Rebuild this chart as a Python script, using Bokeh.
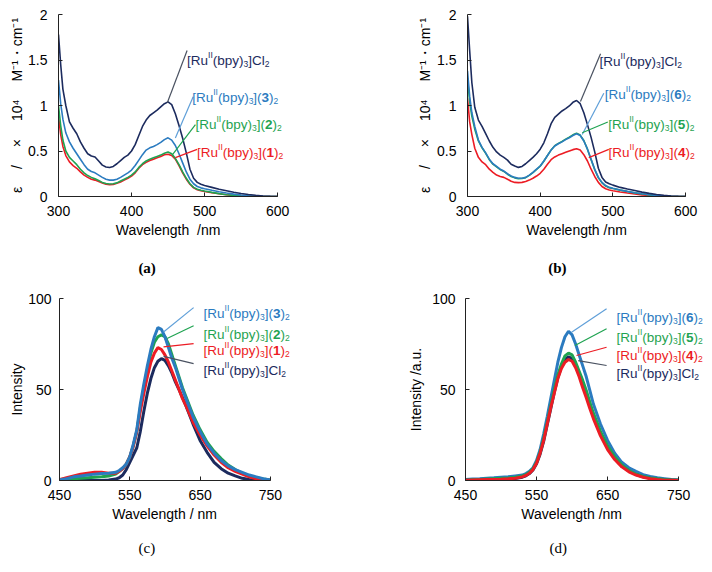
from bokeh.plotting import figure
from bokeh.models import Label, LinearAxis, Range1d, FixedTicker, NumeralTickFormatter
from bokeh.layouts import row, column
from bokeh.embed import file_html
from bokeh.resources import INLINE

# ---------------- data ----------------
wl_abs = [300, 303, 306, 310, 315, 320, 325, 330, 335, 340, 345, 350, 355, 360, 365, 370,
          375, 380, 385, 390, 395, 400, 405, 410, 415, 420, 425, 430, 435, 440, 445, 450,
          455, 460, 465, 470, 475, 480, 485, 490, 495, 500, 510, 520, 530, 540, 550, 560,
          570, 580, 590, 600]

abs_a_cl = [1.78, 1.45, 1.18, 1.00, 0.82, 0.75, 0.69, 0.60, 0.53, 0.47, 0.445, 0.435, 0.39, 0.345, 0.325, 0.318,
            0.33, 0.36, 0.395, 0.43, 0.455, 0.50, 0.57, 0.67, 0.77, 0.84, 0.89, 0.92, 0.95, 0.985, 1.02, 1.04,
            1.01, 0.91, 0.78, 0.64, 0.48, 0.30, 0.20, 0.155, 0.135, 0.12, 0.10, 0.08, 0.064, 0.047, 0.033, 0.022,
            0.013, 0.006, 0.002, 0.0]
abs_a_3 = [1.28, 1.02, 0.85, 0.70, 0.60, 0.53, 0.47, 0.41, 0.35, 0.30, 0.275, 0.26, 0.235, 0.21, 0.19, 0.18,
           0.18, 0.19, 0.21, 0.235, 0.26, 0.29, 0.34, 0.40, 0.46, 0.51, 0.535, 0.55, 0.57, 0.595, 0.625, 0.645,
           0.62, 0.56, 0.47, 0.37, 0.27, 0.19, 0.14, 0.11, 0.095, 0.085, 0.068, 0.052, 0.038, 0.026, 0.016, 0.008,
           0.003, 0.001, 0.0, 0.0]
abs_a_2 = [1.00, 0.78, 0.62, 0.50, 0.43, 0.39, 0.35, 0.30, 0.26, 0.23, 0.21, 0.195, 0.175, 0.155, 0.142, 0.138,
           0.14, 0.15, 0.17, 0.19, 0.21, 0.235, 0.27, 0.32, 0.36, 0.39, 0.41, 0.425, 0.44, 0.455, 0.475, 0.49,
           0.47, 0.42, 0.35, 0.27, 0.20, 0.14, 0.10, 0.08, 0.068, 0.06, 0.045, 0.032, 0.02, 0.012, 0.006, 0.003,
           0.001, 0.0, 0.0, 0.0]
abs_a_1 = [0.88, 0.68, 0.55, 0.45, 0.38, 0.34, 0.31, 0.27, 0.235, 0.21, 0.19, 0.18, 0.165, 0.148, 0.135, 0.13,
           0.132, 0.145, 0.16, 0.18, 0.20, 0.225, 0.26, 0.31, 0.35, 0.375, 0.395, 0.41, 0.425, 0.44, 0.458, 0.465,
           0.45, 0.41, 0.34, 0.26, 0.19, 0.135, 0.095, 0.075, 0.063, 0.055, 0.042, 0.03, 0.019, 0.011, 0.006, 0.003,
           0.001, 0.0, 0.0, 0.0]

abs_b_cl = [1.98, 1.60, 1.25, 0.98, 0.84, 0.77, 0.69, 0.61, 0.54, 0.49, 0.455, 0.43, 0.40, 0.355, 0.335, 0.32,
            0.33, 0.36, 0.395, 0.43, 0.47, 0.52, 0.59, 0.69, 0.80, 0.87, 0.905, 0.94, 0.965, 0.995, 1.035, 1.055,
            1.02, 0.92, 0.79, 0.65, 0.49, 0.31, 0.21, 0.16, 0.14, 0.125, 0.10, 0.082, 0.065, 0.048, 0.034, 0.022,
            0.013, 0.006, 0.002, 0.0]
abs_b_6 = [1.38, 1.10, 0.92, 0.77, 0.62, 0.54, 0.48, 0.41, 0.36, 0.33, 0.30, 0.28, 0.25, 0.225, 0.21, 0.20,
           0.20, 0.21, 0.235, 0.265, 0.30, 0.335, 0.39, 0.45, 0.51, 0.555, 0.58, 0.60, 0.625, 0.645, 0.67, 0.69,
           0.67, 0.61, 0.52, 0.41, 0.30, 0.21, 0.155, 0.12, 0.10, 0.09, 0.072, 0.056, 0.042, 0.03, 0.02, 0.012,
           0.006, 0.002, 0.0, 0.0]
abs_b_5 = [1.30, 1.04, 0.88, 0.74, 0.61, 0.535, 0.475, 0.405, 0.355, 0.325, 0.295, 0.275, 0.245, 0.22, 0.205, 0.196,
           0.197, 0.207, 0.232, 0.262, 0.297, 0.333, 0.388, 0.45, 0.512, 0.558, 0.584, 0.605, 0.63, 0.652, 0.678, 0.695,
           0.675, 0.615, 0.52, 0.405, 0.295, 0.205, 0.15, 0.115, 0.097, 0.087, 0.07, 0.054, 0.04, 0.028, 0.018, 0.01,
           0.005, 0.002, 0.0, 0.0]
abs_b_4 = [1.08, 0.82, 0.68, 0.53, 0.43, 0.38, 0.35, 0.30, 0.265, 0.235, 0.22, 0.21, 0.19, 0.168, 0.155, 0.152,
           0.155, 0.165, 0.18, 0.20, 0.225, 0.255, 0.30, 0.355, 0.405, 0.435, 0.455, 0.47, 0.485, 0.50, 0.515, 0.525,
           0.51, 0.46, 0.39, 0.30, 0.22, 0.155, 0.11, 0.085, 0.072, 0.064, 0.05, 0.038, 0.027, 0.018, 0.011, 0.006,
           0.003, 0.001, 0.0, 0.0]

wl_em = [450, 460, 470, 480, 490, 500, 510, 520, 530, 535, 540, 545, 550, 555, 560, 565, 570, 575, 580, 585,
         590, 595, 600, 605, 610, 615, 620, 625, 630, 640, 650, 660, 670, 680, 690, 700, 710, 720, 730, 740, 750]

em_c_3 = [0.3, 1, 2, 2.5, 3, 3.5, 3.8, 4, 4.5, 5.5, 7, 9, 13, 20, 28, 42, 53, 63, 72, 79,
          84, 83, 79, 73, 67, 62, 56, 50, 45, 35, 27, 20, 15, 11, 8, 6, 4.5, 3, 2, 1, 0.3]
em_c_2 = [0.5, 0.8, 1, 1.2, 1.5, 1.8, 2, 2.5, 3.5, 5, 6.5, 9, 13, 19, 27, 40, 51, 61, 70, 76,
          79, 80, 79, 75, 69, 63, 57, 51, 46, 36, 28, 21, 16, 12, 8.5, 6, 4, 2.5, 1.5, 0.8, 0.3]
em_c_1 = [0.5, 1.5, 2.5, 3.5, 4, 4.5, 4.5, 4, 4, 5, 6.5, 9, 13, 19, 27, 38, 48, 57, 65, 70,
          73, 72, 69, 65, 60, 55, 50, 45, 41, 32, 25, 19, 14, 10, 7, 5, 3.5, 2, 1, 0.5, 0]
em_c_cl = [0, 0, 0, 0, 0, 0, 0, 0.3, 0.8, 1.5, 3, 6, 10, 14, 18, 27, 38, 48, 56, 62,
           65.5, 67, 66, 63, 59, 54, 50, 45.5, 41, 31, 22, 15.5, 10, 6.5, 4, 2.5, 1.2, 0.5, 0.2, 0, 0]

em_d_6 = [0.5, 0.8, 1, 1.3, 1.5, 1.8, 2, 2.5, 3, 3.8, 5, 7, 11, 17, 25.5, 35, 45, 55, 65, 73,
          79, 82, 80, 75, 69, 63, 57, 49.5, 42, 31, 22, 15, 10, 7, 5, 3.2, 2.2, 1.5, 1, 0.5, 0.3]
em_d_5 = [0.2, 0.4, 0.6, 0.8, 1, 1.2, 1.4, 1.8, 2.5, 3.2, 4.5, 6.5, 10, 15.5, 23, 32, 41, 50, 58, 64,
          68.5, 70, 69, 65, 60, 55, 49.5, 43, 37, 27, 19, 13, 8.5, 5.5, 3.5, 2.2, 1.4, 0.9, 0.5, 0.3, 0.1]
em_d_4 = [0.2, 0.3, 0.4, 0.5, 0.6, 0.7, 0.9, 1.2, 2, 2.8, 4, 6, 9.5, 15, 22, 31, 40, 48, 56, 61.5,
          65, 66.5, 65.5, 62, 57, 51, 45.5, 39.5, 34, 24.5, 17, 11.5, 7.5, 4.8, 3, 1.8, 1, 0.5, 0.2, 0.1, 0]
em_d_cl = [0.1, 0.2, 0.3, 0.4, 0.5, 0.6, 0.8, 1.1, 1.8, 2.6, 3.8, 5.8, 9.2, 14.5, 21.5, 30.5, 39.5, 48.5, 56.5, 62.5,
           66.5, 68, 67, 63.5, 58.5, 53, 47.5, 41.5, 35.5, 26, 18, 12.3, 8, 5.2, 3.3, 2, 1.2, 0.7, 0.4, 0.2, 0.1]

abs_xticks = [300, 400, 500, 600]
abs_yticks = [0, 0.5, 1, 1.5, 2]
em_xticks = [450, 550, 650, 750]
em_yticks = [0, 50, 100]

# ---------------- style ----------------
FONT = "Liberation Sans"
NAVY = "#1c2b5e"
BLUE = "#2b7bc0"
GREEN = "#1fa351"
RED = "#ec1c24"
NAVY_LEAD = "#4a5261"
BLUE_LEAD = "#5f9fd8"
LSIZE = 13.5
EM = "\u2003"
NB = "\u00a0"

ADV = {'[': 278, ']': 278, '(': 333, ')': 333, 'R': 722, 'u': 556, 'I': 278, 'b': 556,
       'p': 556, 'y': 500, 'C': 722, 'l': 222}


def tw(s, size):
    return sum(ADV.get(c, 556) for c in s) * size / 1000.0


def rich(p, x, y, parts, color):
    off = 0.0
    for txt, kind in parts:
        size = 8.5 if kind in ("sup", "sub") else LSIZE
        dy = {"n": -5, "b": -5, "sup": 0.5, "sub": -8.5}[kind]
        p.add_layout(Label(x=x, y=y, x_offset=off, y_offset=dy, text=txt, text_font=FONT,
                           text_font_size=f"{size}px",
                           text_font_style="bold" if kind == "b" else "normal",
                           text_color=color, text_align="left", text_baseline="alphabetic"))
        off += tw(txt, size)


CL = [("[Ru", "n"), ("II", "sup"), ("(bpy)", "n"), ("3", "sub"), ("]Cl", "n"), ("2", "sub")]


def ion(n):
    return [("[Ru", "n"), ("II", "sup"), ("(bpy)", "n"), ("3", "sub"), ("](", "n"), (n, "b"), (")", "n"), ("2", "sub")]


def make_fig(width, height, xr, xb, yr, left, right, top, bottom, xticks, yticks, xlabel, ylabel,
             ylab_standoff, ytick_standoff, tag, tag_bold, tag_standoff):
    p = figure(width=width, height=height, x_range=Range1d(*xr), y_range=Range1d(*yr),
               output_backend="svg", toolbar_location=None, title=None,
               min_border_left=left, min_border_right=right, min_border_top=top, min_border_bottom=bottom)
    p.grid.visible = False
    p.outline_line_color = None
    p.background_fill_color = "white"
    p.border_fill_color = "white"
    p.xaxis.ticker = FixedTicker(ticks=xticks)
    p.yaxis.ticker = FixedTicker(ticks=yticks)
    p.xaxis.bounds = xb
    for ax in p.axis:
        ax.major_tick_in = 4
        ax.major_tick_out = 0
        ax.minor_tick_in = 0
        ax.minor_tick_out = 0
        ax.axis_line_color = "#222222"
        ax.major_tick_line_color = "#222222"
        ax.major_label_text_font = FONT
        ax.major_label_text_font_size = "14px"
        ax.major_label_text_color = "black"
        ax.axis_label_text_font = FONT
        ax.axis_label_text_font_size = "14px"
        ax.axis_label_text_font_style = "normal"
        ax.axis_label_text_color = "black"
    p.xaxis.major_label_standoff = 9
    p.yaxis.major_label_standoff = ytick_standoff
    p.xaxis.axis_label_standoff = 3
    p.yaxis.axis_label_standoff = ylab_standoff
    p.xaxis.axis_label = xlabel
    p.yaxis.axis_label = ylabel
    # panel tag "(a)" etc. drawn as the label of a bare axis below the wavelength axis
    tag_axis = LinearAxis(ticker=FixedTicker(ticks=[]), axis_label=tag,
                          axis_line_color=None, major_tick_in=0, major_tick_out=0,
                          minor_tick_in=0, minor_tick_out=0, major_label_standoff=0,
                          axis_label_standoff=tag_standoff, axis_label_text_font="Liberation Serif",
                          axis_label_text_font_size="15px",
                          axis_label_text_font_style="bold" if tag_bold else "normal",
                          axis_label_text_color="black")
    p.add_layout(tag_axis, "below")
    return p


EPS = "ε\u2003 /\u2003 ×\u2003 10⁴\u2003 M⁻¹・cm⁻¹"

# ---------------- (a) ----------------
pa = make_fig(356, 286, (300, 630), (300, 600), (0, 2), 58, 57, 14, 90, abs_xticks, abs_yticks,
              "Wavelength" + NB + " /nm" + EM + NB + NB, EPS, 0, 11,
              "(a)" + EM * 4 + NB, True, 19)
pa.yaxis[0].formatter = NumeralTickFormatter(format="0.[0]")
for ys, c in [(abs_a_1, RED), (abs_a_2, GREEN), (abs_a_3, BLUE), (abs_a_cl, NAVY)]:
    pa.line(wl_abs, ys, line_color=c, line_width=1.6)
pa.segment(x0=[476.1], y0=[1.604], x1=[449], y1=[1.03], line_color=NAVY_LEAD, line_width=1.2)
pa.segment(x0=[484.4], y0=[1.097], x1=[460], y1=[0.644], line_color=BLUE_LEAD, line_width=1.2)
pa.segment(x0=[487.5], y0=[0.789], x1=[456.4], y1=[0.464], line_color=GREEN, line_width=1.2)
pa.segment(x0=[489.8], y0=[0.518], x1=[460], y1=[0.427], line_color=RED, line_width=1.2)
rich(pa, 476.1, 1.549, CL, NAVY)
rich(pa, 483.0, 1.140, ion("3"), BLUE)
rich(pa, 487.5, 0.844, ion("2"), GREEN)
rich(pa, 489.8, 0.535, ion("1"), RED)

# ---------------- (b) ----------------
pb = make_fig(348, 286, (300, 624.6), (300, 600), (0, 2), 111, 1, 14, 90, abs_xticks, abs_yticks,
              "Wavelength /nm" + EM + NB, EPS, 1, 11,
              "(b)" + EM * 3 + NB * 3, True, 19)
pb.yaxis[0].formatter = NumeralTickFormatter(format="0.[0]")
for ys, c in [(abs_b_4, RED), (abs_b_5, GREEN), (abs_b_6, BLUE), (abs_b_cl, NAVY)]:
    pb.line(wl_abs, ys, line_color=c, line_width=1.6)
pb.segment(x0=[483.0], y0=[1.568], x1=[455.4], y1=[1.043], line_color=NAVY_LEAD, line_width=1.2)
pb.segment(x0=[487.5], y0=[1.134], x1=[457.8], y1=[0.682], line_color=BLUE_LEAD, line_width=1.2)
pb.segment(x0=[493.0], y0=[0.818], x1=[457.8], y1=[0.700], line_color=GREEN, line_width=1.2)
pb.segment(x0=[494.4], y0=[0.518], x1=[466.8], y1=[0.427], line_color=RED, line_width=1.2)
rich(pb, 481.6, 1.533, CL, NAVY)
rich(pb, 488.9, 1.174, ion("6"), BLUE)
rich(pb, 493.5, 0.848, ion("5"), GREEN)
rich(pb, 494.0, 0.533, ion("4"), RED)

# ---------------- (c) ----------------
pc = make_fig(356, 278, (450, 800), (450, 750), (0, 100), 59, 51, 12, 84, em_xticks, em_yticks,
              "Wavelength / nm" + EM * 2 + NB * 2, "Intensity", 0, 8,
              "(c)" + EM * 4 + NB * 3, False, 15)
for ys, c in [(em_c_cl, NAVY), (em_c_2, GREEN), (em_c_1, RED), (em_c_3, BLUE)]:
    pc.line(wl_em, ys, line_color=c, line_width=3)
pc.segment(x0=[640.8], y0=[95.0], x1=[598], y1=[81.6], line_color=BLUE_LEAD, line_width=1.2)
pc.segment(x0=[640.8], y0=[85.0], x1=[603], y1=[78.0], line_color=GREEN, line_width=1.2)
pc.segment(x0=[640.8], y0=[75.2], x1=[598], y1=[73.4], line_color=RED, line_width=1.2)
pc.segment(x0=[640.8], y0=[64.2], x1=[598], y1=[68.2], line_color=NAVY_LEAD, line_width=1.2)
rich(pc, 655.0, 94.5, ion("3"), BLUE)
rich(pc, 655.0, 82.9, ion("2"), GREEN)
rich(pc, 655.0, 74.3, ion("1"), RED)
rich(pc, 655.0, 63.3, CL, NAVY)

# ---------------- (d) ----------------
pd = make_fig(348, 278, (450, 785), (450, 750), (0, 100), 109, 1, 12, 84, em_xticks, em_yticks,
              "Wavelength /nm" + EM + NB * 3, "Intensity /a.u.", 5, 10,
              "(d)" + EM * 3 + NB * 2, False, 15)
for ys, c in [(em_d_6, BLUE), (em_d_cl, NAVY), (em_d_5, GREEN), (em_d_4, RED)]:
    pd.line(wl_em, ys, line_color=c, line_width=3)
pd.segment(x0=[648.6], y0=[94.3], x1=[599.3], y1=[81.5], line_color=BLUE_LEAD, line_width=1.2)
pd.segment(x0=[648.6], y0=[83.4], x1=[604.0], y1=[74.2], line_color=GREEN, line_width=1.2)
pd.segment(x0=[648.6], y0=[73.2], x1=[606.3], y1=[68.7], line_color=RED, line_width=1.2)
pd.segment(x0=[648.6], y0=[63.2], x1=[608.7], y1=[65.9], line_color=NAVY_LEAD, line_width=1.2)
rich(pd, 662.7, 92.5, ion("6"), BLUE)
rich(pd, 662.7, 81.5, ion("5"), GREEN)
rich(pd, 662.7, 71.4, ion("4"), RED)
rich(pd, 662.7, 61.4, CL, NAVY)

layout = column(row(pa, pb), row(pc, pd))
open("out.html", "w").write(file_html(layout, INLINE))
